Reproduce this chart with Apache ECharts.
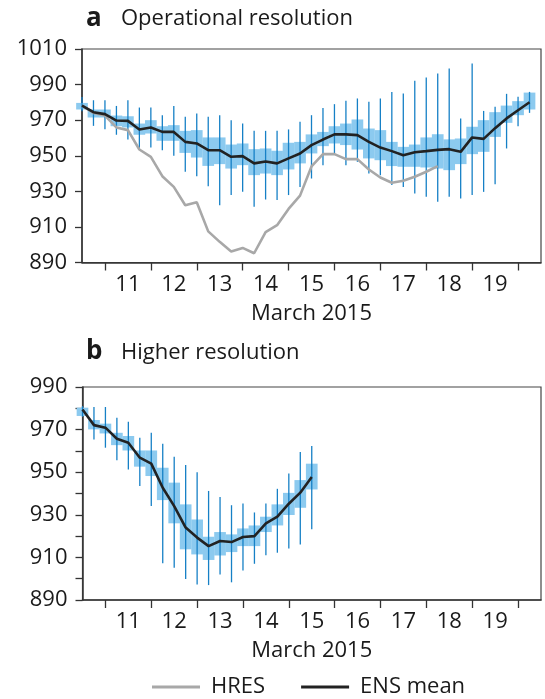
<!DOCTYPE html>
<html>
<head>
<meta charset="utf-8">
<script src="https://cdn.jsdelivr.net/npm/echarts@6/dist/echarts.min.js"></script>
<style>
html,body{margin:0;padding:0;background:#fff;}
#chart{width:545px;height:699px;}
</style>
</head>
<body>
<div id="chart"></div>
<script>
// ---- Data (values in hPa, times in days of March 2015) ----
const timesA = [10.5,10.75,11,11.25,11.5,11.75,12,12.25,12.5,12.75,13,13.25,13.5,13.75,14,14.25,14.5,14.75,15,15.25,15.5,15.75,16,16.25,16.5,16.75,17,17.25,17.5,17.75,18,18.25,18.5,18.75,19,19.25,19.5,19.75,20,20.25];
const minA  = [975,966.8,964.9,961.8,959.1,954.1,954.6,953.1,950,941,938.5,932.9,922.2,927.9,929.7,921.3,925.4,925.1,927.9,932.5,937.2,944.7,951.3,944.7,946.6,940,939.1,933.5,932.5,928.8,926.9,924.1,926.9,926,927.9,929.7,934,954.1,966.6,974.1];
const q1A   = [976,971.5,971.5,966.6,965.9,961.8,962.5,958.4,958.4,951.6,949,944.3,945.3,942.8,944.7,939.1,940,939.1,942.3,945.7,951.3,955.4,956.9,956,953.5,948.5,947.5,944.2,943.8,943.8,943.4,942.8,941.9,945.3,950.9,952.2,960.6,968.5,972.8,976];
const q3A   = [979.7,976,976,972.6,972.2,968.1,970,966.6,967.2,964,964.4,960.3,960.3,956.3,956.9,953.7,954.1,952.8,957.3,957.8,962,963.4,966.6,968.1,970.4,965.3,964.4,957.8,955,956.3,960.3,962.1,959.2,959.7,966.3,970,974.5,978.2,980.7,985.5];
const maxA  = [983,981.2,981.2,978,981.2,977.1,977.1,972.8,978,971.9,973.7,971.9,972.8,970,968.1,964,964,964,964.8,969.1,972.8,976.9,979,980.9,982.2,980.3,982.2,985.9,985,992.1,994,996.2,999,970.9,1001.8,975.2,977.5,984.8,983.1,985.9];
const meanA = [978.2,974.5,973.4,969.8,969.6,964.8,965.9,963.4,963.4,957.8,956.9,953.1,953.1,949.4,949.8,945.7,946.8,945.7,948.5,951.3,956,959.1,962,962,961.6,957.8,954.6,952.6,950.3,952,952.6,953.3,953.7,952.2,960.3,959.5,965.5,971,975.6,980.1];
const timesHres = [10.5,10.75,11,11.25,11.5,11.75,12,12.25,12.5,12.75,13,13.25,13.5,13.75,14,14.25,14.5,14.75,15,15.25,15.5,15.75,16,16.25,16.5,16.75,17,17.25,17.5,17.75,18,18.25];
const hresA = [978.2,974.1,972.6,965.9,964.4,953.5,949.4,938.5,932.5,922.2,923.9,907.5,901.6,896.2,898.2,895.2,907.1,911,920.1,927.6,944,950.9,950.9,948.1,948.1,942.3,937.8,934.8,935.9,938.2,941,944.2];

const timesB = [10.5,10.75,11,11.25,11.5,11.75,12,12.25,12.5,12.75,13,13.25,13.5,13.75,14,14.25,14.5,14.75,15,15.25,15.5];
const minB  = [976,965.4,961.5,955.6,951.3,943.5,934.1,907.2,905.1,899.9,897.3,897,902,898.3,903.9,907,911,912.2,914.2,916.1,923.2];
const q1B   = [976.4,970.1,968.2,962.7,960.2,952.6,948.2,936.9,926,913.8,911.4,908.8,910.9,912.5,915.3,915.3,921.9,925,929.9,933.3,941.9];
const q3B   = [980.3,974.5,972.8,968.5,967,960.2,960.2,952.1,945.1,934.9,927.8,919.7,921.9,920.8,923.6,925,929.1,934.9,940.3,946.3,954];
const maxB  = [981,980.6,980.6,975.6,973.7,966.2,968.5,963.4,957.3,953.4,950,941.2,938.4,934.5,935.3,931.1,935.3,942.2,949.4,959.5,962.3];
const meanB = [979.4,972.1,970.9,965.7,963.8,956.8,954,942.7,934.1,924,919.3,915.3,917.7,917.2,919.6,920,926,929.1,935.2,940.4,947.7];

const dayTicks  = [11,12,13,14,15,16,17,18,19,20];
const dayLabelPos = [11.5,12.5,13.5,14.5,15.5,16.5,17.5,18.5,19.5];
const yLabelsA = [890,910,930,950,970,990,1010];
const yLabelsB = [890,910,930,950,970,990];
const yTicksB  = [890,900,910,920,930,940,950,960,970,980,990];
const xName = 'March 2015';
const seriesNames = ['HRES','ENS mean'];

// ---- Styles ----
const FONT = 'Open Sans';
const TXT = '#1a1a1a';
const AX = '#333';
const BOX_FILL = '#8ccaef';
const WHISK = '#1680c6';
const SLOT = 0.255;

function zip(...arrs){ return arrs[0].map((_, i) => arrs.map(a => a[i])); }

function renderBox(params, api) {
  const x = api.value(0);
  const pMin = api.coord([x, api.value(1)]);
  const pQ1 = api.coord([x, api.value(2)]);
  const pQ3 = api.coord([x, api.value(3)]);
  const pMax = api.coord([x, api.value(4)]);
  const w = api.size([SLOT, 0])[0];
  return {
    type: 'group',
    children: [
      { type: 'rect', shape: { x: pQ3[0] - w / 2, y: pQ3[1], width: w, height: pQ1[1] - pQ3[1] },
        style: { fill: BOX_FILL } },
      { type: 'line', shape: { x1: pMax[0], y1: pMax[1], x2: pMin[0], y2: pMin[1] },
        style: { stroke: WHISK, lineWidth: 1.3 } }
    ]
  };
}

function xAxisCfg(gridIndex) {
  return {
    type: 'value', gridIndex, min: 10.5, max: 20.5,
    splitLine: { show: false },
    axisLine: { show: true, onZero: false, lineStyle: { color: AX, width: 1.5 } },
    axisTick: { show: true, inside: false, length: 8, customValues: dayTicks, lineStyle: { color: AX, width: 1.3 } },
    axisLabel: { show: true, customValues: dayLabelPos, margin: 11,
      formatter: v => String(Math.floor(v)), fontSize: 22, fontFamily: FONT, color: TXT },
    name: xName, nameLocation: 'middle', nameGap: 40,
    nameTextStyle: { fontSize: 22, fontFamily: FONT, color: TXT }
  };
}

function yAxisCfg(gridIndex, max, ticks, labels) {
  return {
    type: 'value', gridIndex, min: 890, max,
    splitLine: { show: false },
    axisLine: { show: true, onZero: false, lineStyle: { color: AX, width: 1.5 } },
    axisTick: { show: true, length: 7, customValues: ticks, lineStyle: { color: AX, width: 1.3 } },
    axisLabel: { customValues: labels, margin: 15, formatter: v => String(v),
      fontSize: 22, fontFamily: FONT, color: TXT }
  };
}

const option = {
  animation: false,
  backgroundColor: '#fff',
  title: [
    { text: 'a', left: 81, top: 1, textStyle: { fontSize: 26, fontWeight: 'bold', fontFamily: FONT, color: TXT } },
    { text: 'Operational resolution', left: 116, top: 3, textStyle: { fontSize: 22, fontWeight: 'normal', fontFamily: FONT, color: TXT } },
    { text: 'b', left: 81, top: 334, textStyle: { fontSize: 26, fontWeight: 'bold', fontFamily: FONT, color: TXT } },
    { text: 'Higher resolution', left: 116, top: 337, textStyle: { fontSize: 22, fontWeight: 'normal', fontFamily: FONT, color: TXT } }
  ],
  legend: {
    data: seriesNames, left: 152, top: 676, padding: 0, icon: 'rect', itemWidth: 48, itemHeight: 3, itemGap: 36,
    textStyle: { fontSize: 22, fontFamily: FONT, color: TXT, padding: [0, 0, 0, 6] }
  },
  grid: [
    { left: 82, top: 49, width: 459, height: 213.5, show: true, borderColor: '#444', borderWidth: 1.2, backgroundColor: 'transparent' },
    { left: 82.5, top: 387, width: 458.5, height: 213, show: true, borderColor: '#444', borderWidth: 1.2, backgroundColor: 'transparent' }
  ],
  xAxis: [xAxisCfg(0), xAxisCfg(1)],
  yAxis: [yAxisCfg(0, 1010, yLabelsA, yLabelsA), yAxisCfg(1, 990, yTicksB, yLabelsB)],
  series: [
    { type: 'custom', name: 'ensA', xAxisIndex: 0, yAxisIndex: 0, renderItem: renderBox, clip: false, z: 1,
      encode: { x: 0, y: [1, 2, 3, 4] }, data: zip(timesA, minA, q1A, q3A, maxA) },
    { type: 'line', name: 'HRES', xAxisIndex: 0, yAxisIndex: 0, z: 3, symbol: 'none',
      lineStyle: { color: '#a8a8a8', width: 2.6 }, itemStyle: { color: '#a8a8a8' },
      data: zip(timesHres, hresA) },
    { type: 'line', name: 'ENS mean', xAxisIndex: 0, yAxisIndex: 0, z: 4, symbol: 'none',
      lineStyle: { color: '#222', width: 2.6 }, itemStyle: { color: '#222' },
      data: zip(timesA, meanA) },
    { type: 'custom', name: 'ensB', xAxisIndex: 1, yAxisIndex: 1, renderItem: renderBox, clip: false, z: 1,
      encode: { x: 0, y: [1, 2, 3, 4] }, data: zip(timesB, minB, q1B, q3B, maxB) },
    { type: 'line', name: 'ENS mean', xAxisIndex: 1, yAxisIndex: 1, z: 4, symbol: 'none',
      lineStyle: { color: '#222', width: 2.6 }, itemStyle: { color: '#222' },
      data: zip(timesB, meanB) }
  ]
};

const chart = echarts.init(document.getElementById('chart'), null, { renderer: 'canvas' });
chart.setOption(option);
</script>
</body>
</html>
